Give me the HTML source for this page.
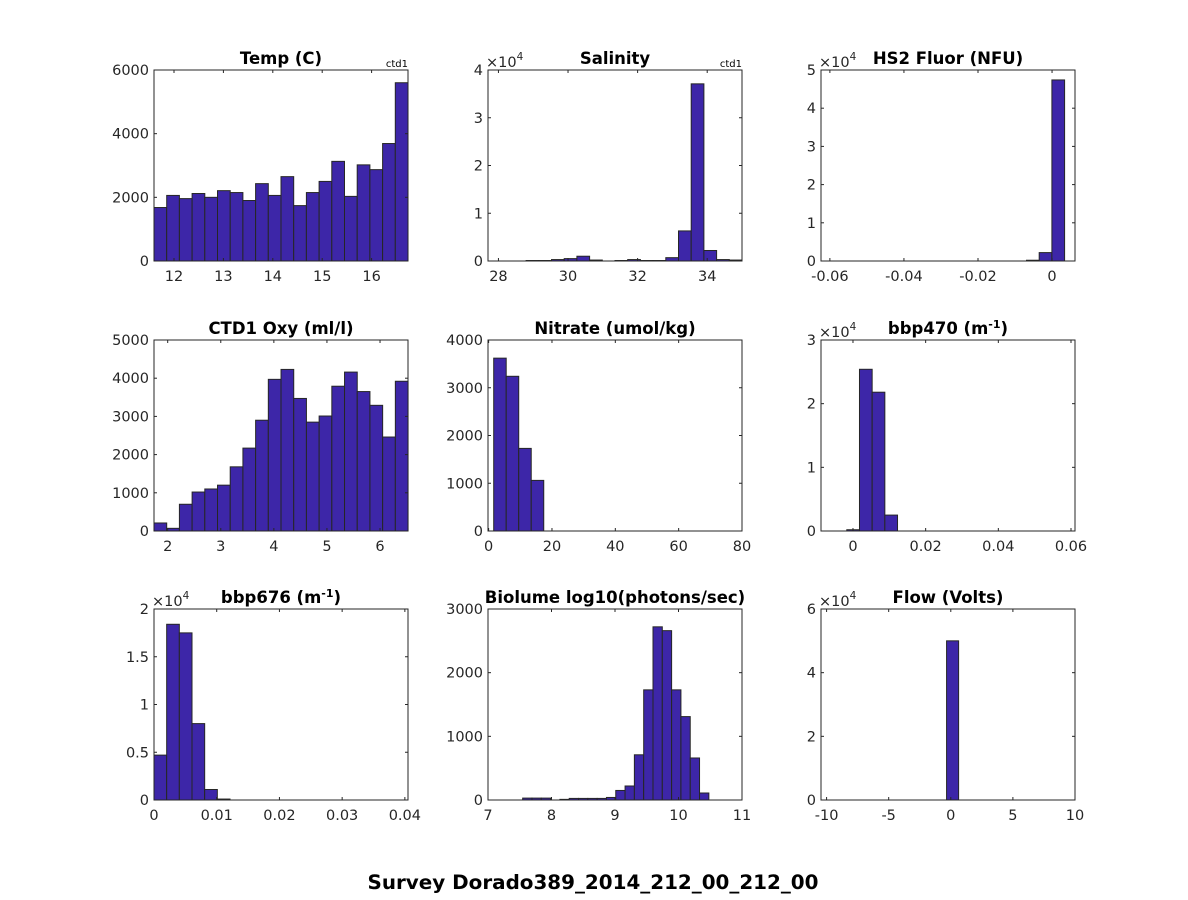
<!DOCTYPE html>
<html><head><meta charset="utf-8"><style>
html,body{margin:0;padding:0;background:#fff;}
svg{display:block;font-family:"DejaVu Sans","Liberation Sans",sans-serif;}
</style></head><body>
<svg id="fig" width="1188" height="900" viewBox="0 0 1188 900">
<text x="593" y="889" text-anchor="middle" font-size="19.9" font-weight="bold" fill="#000">Survey Dorado389_2014_212_00_212_00</text>
</svg>
<script>
// ---- data ----
const tempCounts = [1680,2060,1960,2120,2000,2210,2150,1900,2430,2060,2650,1740,2150,2500,3130,2030,3020,2870,3690,5600];
const tempXTicks = [12,13,14,15,16];
const tempYTicks = [0,2000,4000,6000];
const salCounts = [0,0,0,100,100,300,500,1000,200,0,100,300,100,100,700,6300,37100,2200,300,200];
const salXTicks = [28,30,32,34];
const salYTicks = [0,1,2,3,4];
const fluorCounts = [200,2200,47400];
const fluorXTicks = [-0.06,-0.04,-0.02,0];
const fluorYTicks = [0,1,2,3,4,5];
const oxyCounts = [210,70,700,1020,1100,1200,1680,2170,2900,3970,4230,3470,2850,3010,3790,4160,3650,3290,2460,3920];
const oxyXTicks = [2,3,4,5,6];
const oxyYTicks = [0,1000,2000,3000,4000,5000];
const nitCounts = [3620,3240,1730,1060];
const nitXTicks = [0,20,40,60,80];
const nitYTicks = [0,1000,2000,3000,4000];
const b470Counts = [200,25400,21800,2500];
const b470XTicks = [0,0.02,0.04,0.06];
const b470YTicks = [0,1,2,3];
const b676Counts = [4700,18400,17500,8000,1100,100];
const b676XTicks = [0,0.01,0.02,0.03,0.04];
const b676YTicks = [0,0.5,1,1.5,2];
const bioCounts = [30,30,30,0,10,25,25,25,25,40,150,220,710,1730,2720,2660,1730,1310,660,110];
const bioXTicks = [7,8,9,10,11];
const bioYTicks = [0,1000,2000,3000];
const flowCounts = [50000];
const flowXTicks = [-10,-5,0,5,10];
const flowYTicks = [0,2,4,6];

const NS='http://www.w3.org/2000/svg';
const fig=document.getElementById('fig');
function mk(tag,attrs,parent){const e=document.createElementNS(NS,tag);for(const k in attrs)e.setAttribute(k,attrs[k]);(parent||fig).appendChild(e);return e;}

const panels=[
 {key:'temp',title:'Temp (C)',x:154,y:70,counts:tempCounts,xt:tempXTicks,yt:tempYTicks,xmin:11.595,xmax:16.737,start:11.595,bw:0.2571,ymax:6000,scale:1,ctd:true},
 {key:'salinity',title:'Salinity',x:488,y:70,counts:salCounts,xt:salXTicks,yt:salYTicks,xmin:27.7,xmax:35.0,start:27.7,bw:0.365,ymax:4,scale:1e4,exp:true,ctd:true},
 {key:'hs2-fluor',title:'HS2 Fluor (NFU)',x:821,y:70,counts:fluorCounts,xt:fluorXTicks,yt:fluorYTicks,xmin:-0.0624,xmax:0.0062,start:-0.0069,bw:0.00343,ymax:5,scale:1e4,exp:true},
 {key:'oxygen',title:'CTD1 Oxy (ml/l)',x:154,y:340,counts:oxyCounts,xt:oxyXTicks,yt:oxyYTicks,xmin:1.742,xmax:6.527,start:1.742,bw:0.2393,ymax:5000,scale:1},
 {key:'nitrate',title:'Nitrate (umol/kg)',x:488,y:340,counts:nitCounts,xt:nitXTicks,yt:nitYTicks,xmin:-0.2,xmax:80,start:1.6,bw:3.95,ymax:4000,scale:1},
 {key:'bbp470',title:'bbp470 (m',sup:'-1',x:821,y:340,counts:b470Counts,xt:b470XTicks,yt:b470YTicks,xmin:-0.0088,xmax:0.0611,start:-0.0017,bw:0.00349,ymax:3,scale:1e4,exp:true},
 {key:'bbp676',title:'bbp676 (m',sup:'-1',x:154,y:609,counts:b676Counts,xt:b676XTicks,yt:b676YTicks,xmin:0,xmax:0.0405,start:0,bw:0.00202,ymax:2,scale:1e4,exp:true},
 {key:'biolume',title:'Biolume log10(photons/sec)',x:488,y:609,counts:bioCounts,xt:bioXTicks,yt:bioYTicks,xmin:7,xmax:11,start:7.546,bw:0.1466,ymax:3000,scale:1},
 {key:'flow',title:'Flow (Volts)',x:821,y:609,counts:flowCounts,xt:flowXTicks,yt:flowYTicks,xmin:-10.45,xmax:10,start:-0.34,bw:0.97,ymax:6,scale:1e4,exp:true}
];
const W=254,H=191;
panels.forEach(p=>{
  const g=mk('g',{});
  
  
  const sx=v=>p.x+(v-p.xmin)/(p.xmax-p.xmin)*W;
  const sy=v=>p.y+H-(v/p.scale)/p.ymax*H;
  mk('rect',{x:p.x,y:p.y,width:W,height:H,fill:'#fff'},g);
  p.counts.forEach((c,i)=>{
    if(c<=0)return;
    const x0=sx(p.start+i*p.bw),x1=sx(p.start+(i+1)*p.bw);
    const r=mk('rect',{x:x0,y:sy(c),width:x1-x0,height:p.y+H-sy(c),fill:'#3d26a8',stroke:'#262626','stroke-width':1},g);
    
    
  });
  mk('rect',{x:p.x,y:p.y,width:W,height:H,fill:'none',stroke:'#262626','stroke-width':1},g);
  p.xt.forEach(t=>{
    const x=sx(t);
    mk('line',{x1:x,x2:x,y1:p.y+H,y2:p.y+H-3,stroke:'#262626'},g);
    mk('line',{x1:x,x2:x,y1:p.y,y2:p.y+3,stroke:'#262626'},g);
    const tx=mk('text',{x:x,y:p.y+H+20,'text-anchor':'middle','font-size':14.5,fill:'#262626'},g);
    tx.textContent=String(t);
    
    
  });
  p.yt.forEach(t=>{
    const y=p.y+H-t/p.ymax*H;
    mk('line',{x1:p.x,x2:p.x+3,y1:y,y2:y,stroke:'#262626'},g);
    mk('line',{x1:p.x+W,x2:p.x+W-3,y1:y,y2:y,stroke:'#262626'},g);
    const ty=mk('text',{x:p.x-5,y:y+5,'text-anchor':'end','font-size':14.5,fill:'#262626'},g);
    ty.textContent=String(t);
    
    
  });
  const tt=mk('text',{x:p.x+W/2,y:p.y-6,'text-anchor':'middle','font-size':16.5,'font-weight':'bold',fill:'#000'},g);
  tt.textContent=p.title;
  if(p.sup){const s=mk('tspan',{dy:-6,'font-size':11},tt);s.textContent=p.sup;const s2=mk('tspan',{dy:6},tt);s2.textContent=')';}
  
  
  if(p.exp){
    const e=mk('text',{x:p.x-2,y:p.y-3,'font-size':14.5,fill:'#262626'},g);
    e.textContent='\u00d710';
    const s=mk('tspan',{dy:-7,'font-size':10.5},e);s.textContent='4';
    
    
  }
  if(p.ctd){
    const c=mk('text',{x:p.x+W,y:p.y-3,'text-anchor':'end','font-size':10,fill:'#000'},g);
    c.textContent='ctd1';
    
    
  }
});
</script>
</body></html>
